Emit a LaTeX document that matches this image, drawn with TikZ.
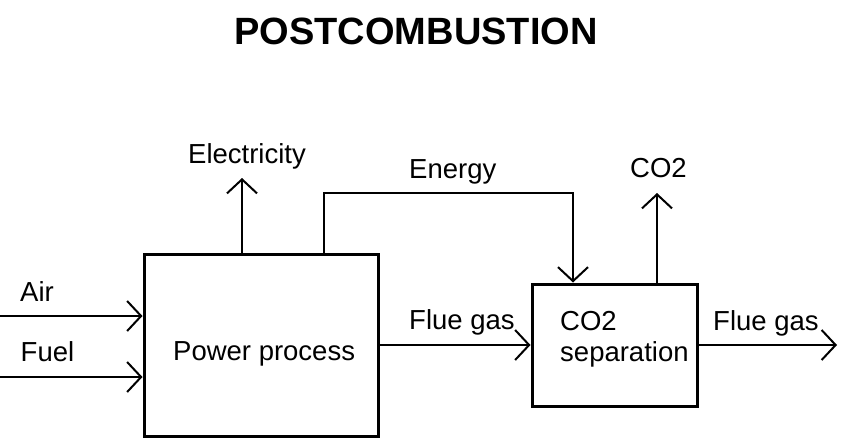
\documentclass[tikz,border=0pt]{standalone}
\usepackage{fontspec}
\setmainfont{Liberation Sans}
\usetikzlibrary{arrows.meta}
\begin{document}
\begin{tikzpicture}[x=1pt,y=-1pt,
  box/.style={draw, line width=3pt, minimum width=#1, inner sep=0pt},
  conn/.style={line width=2pt, -{Straight Barb[length=14pt,width=30pt]}},
  lbl/.style={anchor=base west, inner sep=0pt, font=\fontsize{27.5}{31}\selectfont},
  ttl/.style={anchor=base, inner sep=0pt, font=\fontsize{38}{44}\selectfont\bfseries}]
\useasboundingbox (0,0) rectangle (850,444);
\node[ttl] (title) at (416,44.5) {POSTCOMBUSTION};
% boxes
\node[box=234pt, minimum height=182pt] (power) at (261,345) {};
\node[box=165pt, minimum height=122pt] (sep) at (614.5,345) {};
% box texts
\node[lbl] (powertxt) at (173,360.7) {Power process};
\node[lbl, align=left] (septxt) at (560,361.7) {CO2\\separation};
% coordinates
\coordinate (airin) at (0,316);
\coordinate (fuelin) at (0,377);
\coordinate (elec) at (242,178);
\coordinate (eA) at (324,193);
\coordinate (eB) at (573,193);
\coordinate (co2out) at (657,193);
\coordinate (flueout) at (837,345);
% connectors
\draw[conn] (airin) -- (airin -| power.west);
\draw[conn] (fuelin) -- (fuelin -| power.west);
\draw[conn] (power.north -| elec) -- (elec);
\draw[conn] (power.north -| eA) -- (eA) -- (eB) -- (sep.north -| eB);
\draw[conn] (power.east) -- (sep.west);
\draw[conn] (sep.north -| co2out) -- (co2out);
\draw[conn] (sep.east) -- (flueout);
% labels
\node[lbl] (airlbl) at (20,301) {Air};
\node[lbl] (fuellbl) at (20.5,361.7) {Fuel};
\node[lbl] (eleclbl) at (188,163.3) {Electricity};
\node[lbl] (energylbl) at (409,178.3) {Energy};
\node[lbl] (co2lbl) at (630,177.3) {CO2};
\node[lbl] (flue1) at (409,329.3) {Flue gas};
\node[lbl] (flue2) at (713,330.7) {Flue gas};
\end{tikzpicture}
\end{document}
